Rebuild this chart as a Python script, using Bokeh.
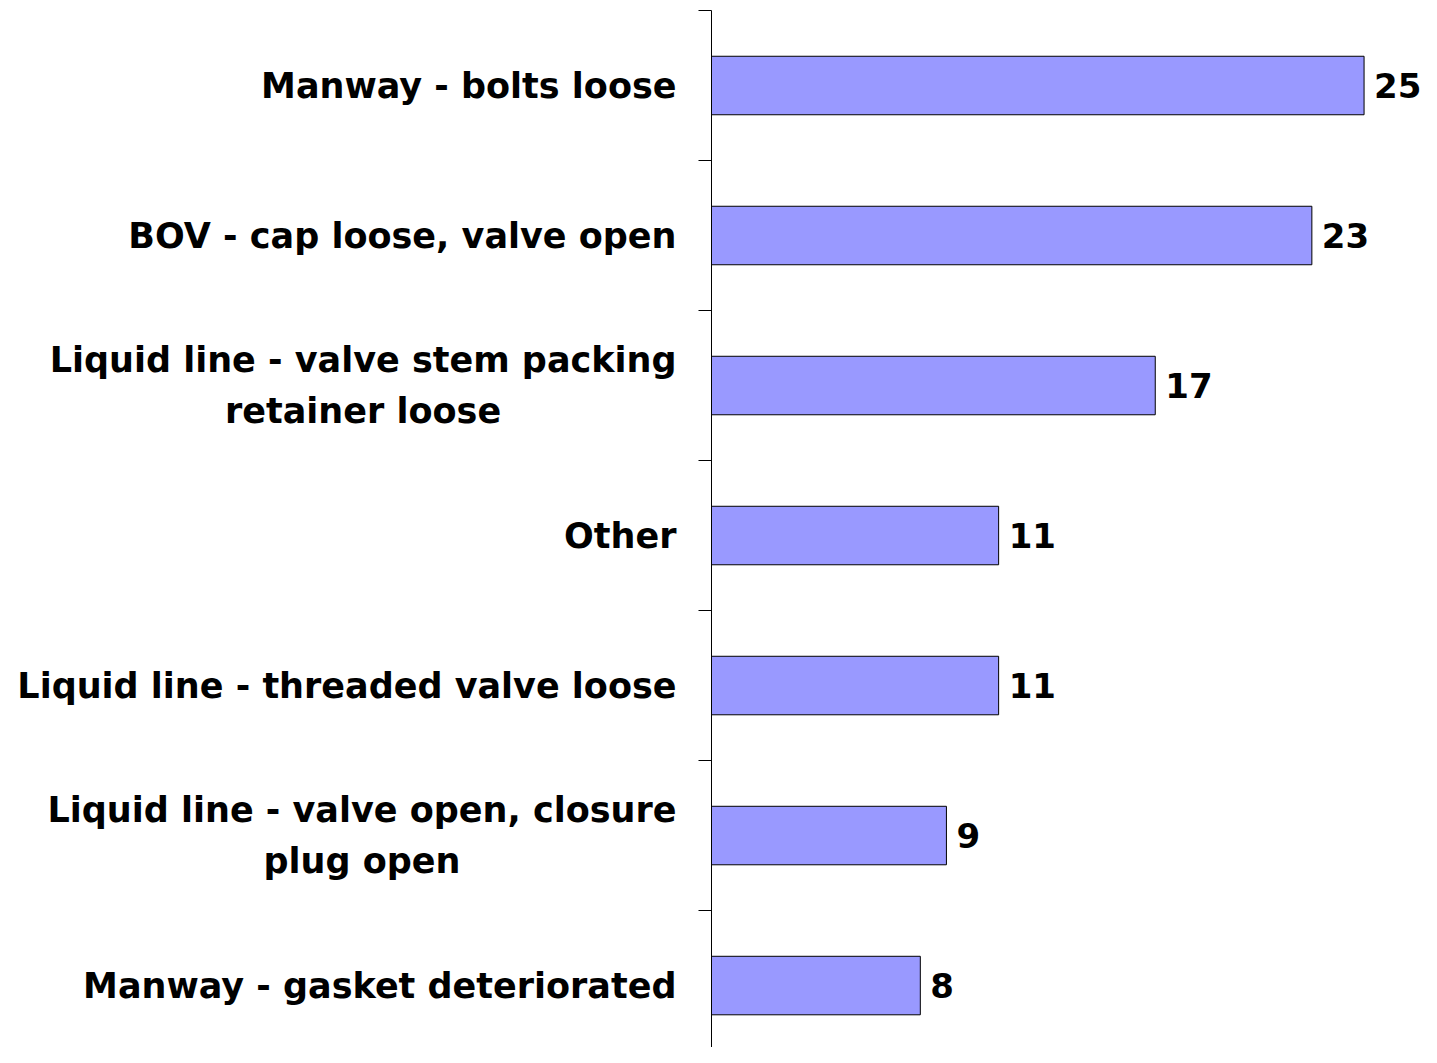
from bokeh.plotting import figure
from bokeh.models import Range1d, FixedTicker, ColumnDataSource
from bokeh.layouts import row
from bokeh.core.properties import value
from bokeh.embed import file_html
from bokeh.resources import INLINE

categories = [
    "Manway - bolts loose",
    "BOV - cap loose, valve open",
    "Liquid line - valve stem packing\nretainer loose",
    "Other",
    "Liquid line - threaded valve loose",
    "Liquid line - valve open, closure\nplug open",
    "Manway - gasket deteriorated",
]
counts = [25, 23, 17, 11, 11, 9, 8]

n = len(categories)
centers = [i + 0.5 for i in range(n)]
boundaries = list(range(n + 1))

src = ColumnDataSource(dict(y=centers, v=counts, lab=[str(c) for c in counts]))
cat_src = ColumnDataSource(dict(y=centers, name=categories, x=[1.0] * n))

FONT = "DejaVu Sans"
H = 1047
yr = Range1d(6.913, 0)

# left panel holding the category labels
lp = figure(width=697, height=H, output_backend="svg", toolbar_location=None,
            x_range=Range1d(0, 1), y_range=yr,
            min_border_left=0, min_border_right=0, min_border_top=10, min_border_bottom=0,
            x_axis_location=None, y_axis_location=None)
lp.outline_line_color = None
lp.grid.visible = False
lp.text(x="x", y="y", text="name", source=cat_src, x_offset=-21,
        anchor="center_right", text_align="center", text_baseline="middle",
        text_font=value(FONT), text_font_style="bold", text_font_size="35px",
        text_color="black", text_line_height=1.29)

p = figure(width=724, height=H, output_backend="svg", toolbar_location=None,
           x_range=Range1d(0, 27.2), y_range=yr,
           min_border_left=14, min_border_top=10, min_border_bottom=0, min_border_right=0,
           x_axis_location=None)
p.outline_line_color = None
p.grid.visible = False

p.hbar(y="y", left=0, right="v", height=0.39, source=src,
       fill_color="#9999FF", line_color="black", line_width=1)
p.text(x="v", y="y", text="lab", source=src, x_offset=10,
       text_baseline="middle", text_align="left",
       text_font=value(FONT), text_font_style="bold",
       text_font_size="34px", text_color="black")

ax = p.yaxis[0]
ax.ticker = FixedTicker(ticks=centers, minor_ticks=boundaries)
ax.major_label_overrides = {c: "" for c in centers}
ax.major_tick_out = 0
ax.major_tick_in = 0
ax.minor_tick_out = 13
ax.minor_tick_in = 0
ax.minor_tick_line_color = "black"
ax.axis_line_color = "black"
ax.major_label_text_font_size = "1px"
ax.major_label_standoff = 0

layout = row(lp, p, spacing=0)
open("out.html", "w").write(file_html(layout, INLINE))
